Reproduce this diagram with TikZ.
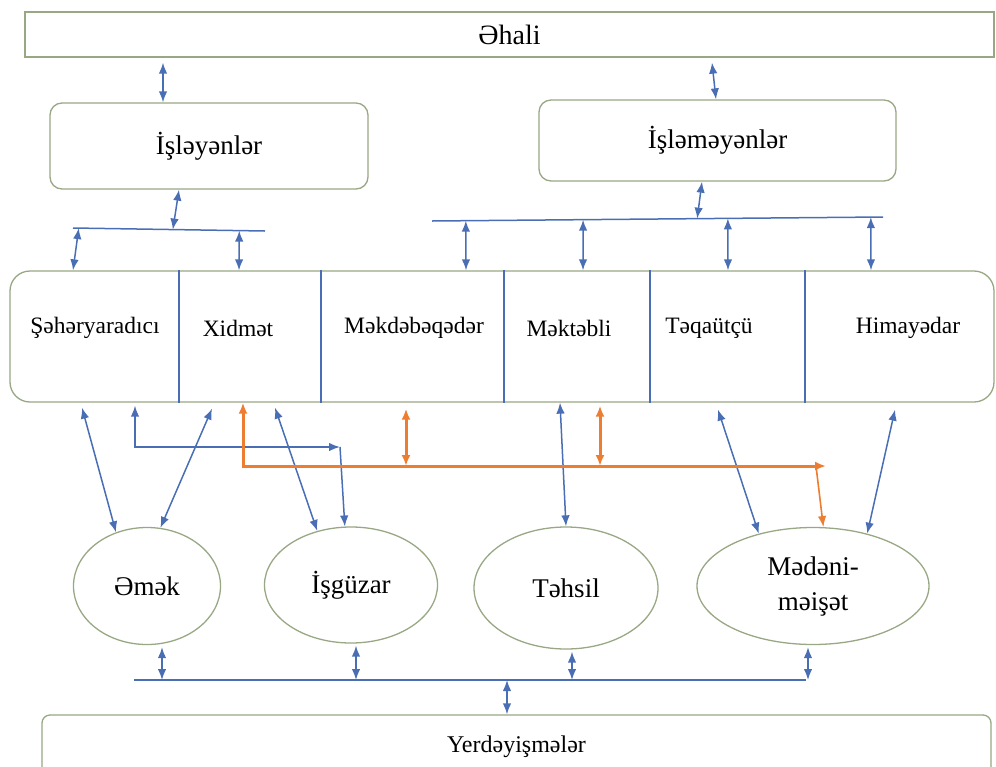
\documentclass[tikz,border=0pt]{standalone}
\usepackage{fontspec}
\setmainfont{Liberation Serif}
\usetikzlibrary{shapes.geometric,arrows.meta,calc}
\definecolor{boxline}{RGB}{152,168,132}
\definecolor{linkblue}{RGB}{74,110,180}
\definecolor{linkorange}{RGB}{237,125,49}
\begin{document}
\begin{tikzpicture}[
		x=1pt, y=-1pt,
		box/.style={draw=boxline, line width=1.3pt, inner sep=0pt},
		roundbox/.style={box, rounded corners=12pt, font=\fontsize{27}{32}\selectfont},
		oval/.style={ellipse, draw=boxline, line width=1.3pt, inner sep=0pt, align=center, font=\fontsize{27}{35}\selectfont},
		cell/.style={font=\fontsize{23.5}{27}\selectfont},
		divider/.style={draw=linkblue, line width=1.2pt},
		bus/.style={draw=linkblue, line width=1.5pt},
		link/.style={linkblue, line width=1.5pt, {Latex[length=11pt,width=8.5pt]}-{Latex[length=11pt,width=8.5pt]}},
		linkto/.style={linkblue, line width=1.5pt, -{Latex[length=11pt,width=8.5pt]}},
		olink/.style={linkorange, line width=3pt, {Latex[length=11pt,width=9pt]}-{Latex[length=11pt,width=9pt]}},
		olinkto/.style={linkorange, line width=1.6pt, -{Latex[length=11pt,width=8.5pt]}},
	]
	\useasboundingbox (0,0) rectangle (996,766);
	\clip (0,0) rectangle (996,766);
	\node[box, minimum width=969pt, minimum height=45pt, font=\fontsize{28}{32}\selectfont] (ahali) at (509.5,34.5) {Əhali};
	\node[roundbox, minimum width=318pt, minimum height=86pt] (isleyen) at (209,146) {İşləyənlər};
	\node[roundbox, minimum width=357pt, minimum height=81pt] (islemeyen) at (717.5,140.5) {İşləməyənlər};
	\node[box, rounded corners=20pt, minimum width=984pt, minimum height=131pt] (row) at (502,336.5) {};
	\node[cell] (seher) at (95,328) {Şəhəryaradıcı};
	\node[cell] (xidmet) at (238,328) {Xidmət};
	\node[cell] (mekdeb) at (414,328) {Məkdəbəqədər};
	\node[cell] (mektebli) at (569,328) {Məktəbli};
	\node[cell] (teqaut) at (709,328) {Təqaütçü};
	\node[cell] (himaye) at (908,328) {Himayədar};
	\foreach \x in {179,321,504,650,805}
		\draw[divider] (\x,0 |- row.north) -- (\x,0 |- row.south);
	\node[oval, minimum width=147pt, minimum height=117pt] (emek) at (147,586) {Əmək};
	\node[oval, minimum width=173pt, minimum height=116pt] (isguzar) at (351,585) {İşgüzar};
	\node[oval, minimum width=184pt, minimum height=122pt] (tehsil) at (566,588) {Təhsil};
	\node[oval, minimum width=232pt, minimum height=117pt] (medeni) at (813,586) {Mədəni-\\məişət};
	\node[box, rounded corners=8pt, minimum width=949pt, minimum height=63pt, font=\fontsize{24}{28}\selectfont] (yerdeyis) at (516.5,746.5) {Yerdəyişmələr};
	\coordinate (busL) at (73,228);
	\coordinate (busLend) at (265,231);
	\coordinate (busR) at (432,221);
	\coordinate (busRend) at (883,217);
	\coordinate (busB) at (134,680);
	\coordinate (busBend) at (806,680);
	\coordinate (elbow) at (340,447);
	\coordinate (orangeEnd) at (826,466);
	\draw[bus] (busL) -- (busLend);
	\draw[bus] (busR) -- (busRend);
	\draw[bus] (busB) -- (busBend);
	\draw[link] ($(ahali.south -| 163,0)+(0,5)$) -- (isleyen.north -| 163,0);
	\draw[link] ($(ahali.south -| 712,0)+(0,5)$) -- (islemeyen.north -| 716,0);
	\draw[link] (isleyen.south -| 179,0) -- ($(busL)!0.52!(busLend)$);
	\draw[link] ($(busL)!0.03!(busLend)$) -- (row.north -| 73,0);
	\draw[link] ($(busL)!0.866!(busLend)$) -- (row.north -| 239,0);
	\draw[link] (islemeyen.south -| 702,0) -- ($(busR)!0.588!(busRend)$);
	\foreach \t/\x in {0.075/466, 0.335/583, 0.656/728, 0.973/871}
		\draw[link] ($(busR)!\t!(busRend)$) -- (row.north -| \x,0);
	\draw[link] ($(row.south -| 82,0)+(0,5)$) -- (emek.120);
	\draw[link] ($(row.south -| 212,0)+(0,6)$) -- (emek.77);
	\draw[link] ($(row.south -| 135,0)+(0,3)$) |- (elbow);
	\draw[linkto] (elbow) -- (isguzar.96);
	\draw[link] ($(row.south -| 275,0)+(0,5)$) -- (isguzar.122);
	\draw[link] (row.south -| 560,0) -- (tehsil.north);
	\draw[link] ($(row.south -| 718,0)+(0,7)$) -- (medeni.136);
	\draw[link] ($(row.south -| 895,0)+(0,7)$) -- (medeni.44);
	\draw[olink] (row.south -| 243,0) |- (orangeEnd);
	\draw[olink] ($(row.south -| 406,0)+(0,6)$) -- (406,0 |- orangeEnd);
	\draw[olink] ($(row.south -| 600,0)+(0,3)$) -- (600,0 |- orangeEnd);
	\draw[olinkto] (816,0 |- orangeEnd) -- (medeni.80);
	\foreach \n/\x in {emek/162, isguzar/356, tehsil/572, medeni/808}
		\draw[link] ($(\n.south -| \x,0)+(0,2)$) -- (\x,0 |- busB);
	\draw[link] (507,0 |- busB) -- (yerdeyis.north -| 507,0);
\end{tikzpicture}
\end{document}
